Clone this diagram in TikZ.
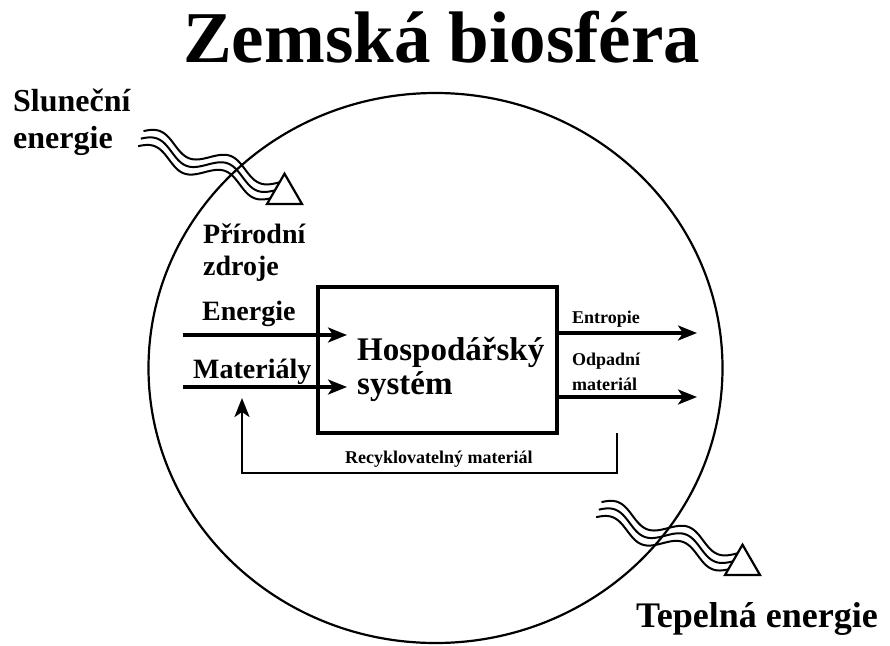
\documentclass[tikz,border=0pt]{standalone}
\usepackage{fontspec}
\setmainfont{Liberation Serif}
\usetikzlibrary{arrows.meta}
\newcommand\wavybundle[1]{%
  \begin{scope}[shift={#1},rotate=-19.4]
    \foreach \o in {-8,0,8}{%
      \draw[wave] plot[domain=0:150,samples=90,smooth] (\x,{\o-8*sin(4.8*(\x+3.75))});}
  \end{scope}}
\begin{document}
\begin{tikzpicture}[x=1pt,y=-1pt,
  lbl/.style={anchor=base west,inner sep=0pt,font=\bfseries\fontsize{#1}{#1}\selectfont},
  flow/.style={line width=3.2pt,-{Stealth[length=19pt,width=15pt,inset=5pt]}},
  wave/.style={line width=2pt},
  hollowtip/.style={line width=2.2pt,fill=white,line join=miter}]
\useasboundingbox (0,0) rectangle (890,645);
\fill[white] (0,0) rectangle (890,645);
% biosphere
\draw[line width=2.2pt] (435.5,368) ellipse [x radius=287, y radius=275];
% title
\node[lbl=73] (title) at (183,62) {Zemská biosféra};
% solar energy
\node[lbl=32] (sun1) at (13,111) {Sluneční};
\node[lbl=32] (sun2) at (13,148) {energie};
\wavybundle{(140,141)}
\draw[hollowtip,shift={(302,204)},rotate=-30] (0,0) -- (-30.3,-17.5) -- (-30.3,17.5) -- cycle;
% heat energy
\wavybundle{(598,512)}
\draw[hollowtip,shift={(760,575)},rotate=-30] (0,0) -- (-30.3,-17.5) -- (-30.3,17.5) -- cycle;
\node[lbl=36] (heat) at (636,627) {Tepelná energie};
% natural resources
\node[lbl=28] (nr1) at (203,243) {Přírodní};
\node[lbl=28] (nr2) at (203,275) {zdroje};
\node[lbl=28] (en) at (202,320) {Energie};
\node[lbl=28] (mat) at (193,378) {Materiály};
% economic system
\node[draw,line width=3.2pt,minimum width=239pt,minimum height=146pt,inner sep=0pt] (hs) at (437.5,360) {};
\node[lbl=33] (hs1) at (357,360) {Hospodářský};
\node[lbl=33] (hs2) at (357,394) {systém};
% inputs
\coordinate (ein) at (183,335);
\coordinate (eout) at (347,335);
\coordinate (min) at (183,387);
\coordinate (mout) at (347,387);
\draw[flow] (ein) -- (eout);
\draw[flow] (min) -- (mout);
% outputs
\coordinate (oin1) at (557,333);
\coordinate (oout1) at (697,333);
\coordinate (oin2) at (557,397);
\coordinate (oout2) at (697,397);
\draw[flow] (oin1) -- (oout1);
\draw[flow] (oin2) -- (oout2);
\node[lbl=18] (ent) at (572,323) {Entropie};
\node[lbl=18] (odp1) at (572,365) {Odpadní};
\node[lbl=18] (odp2) at (572,390) {materiál};
% recycling
\coordinate (r0) at (617,433);
\coordinate (r1) at (617,473);
\coordinate (r2) at (242,473);
\coordinate (r3) at (242,398);
\draw[flow,line width=2.8pt] (r0) -- (r1) -- (r2) -- (r3);
\node[lbl=18] (rec) at (345,463) {Recyklovatelný materiál};
\end{tikzpicture}
\end{document}
